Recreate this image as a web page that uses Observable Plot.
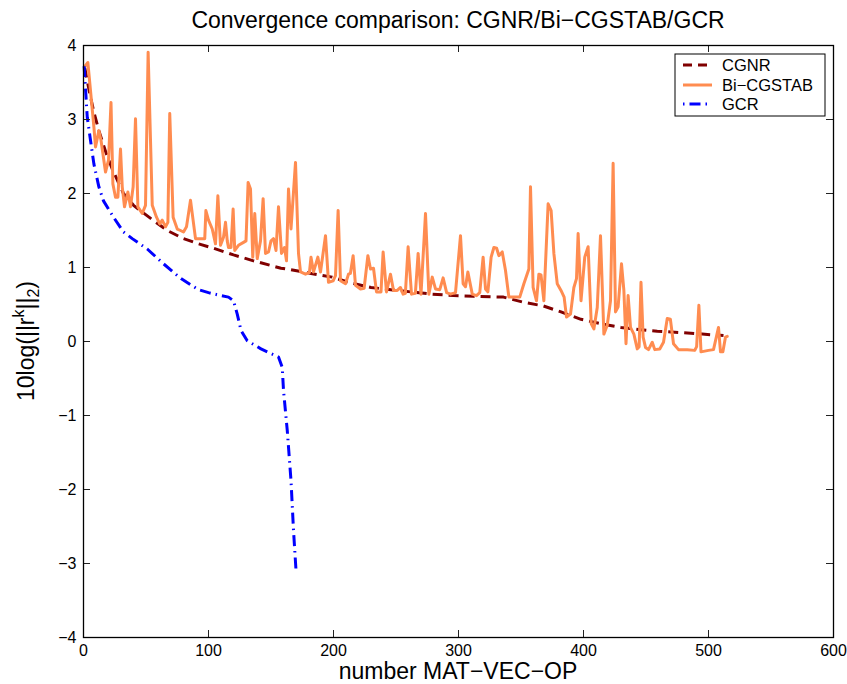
<!DOCTYPE html>
<html>
<head>
<meta charset="utf-8">
<script src="https://cdn.jsdelivr.net/npm/d3@7"></script>
<script src="https://cdn.jsdelivr.net/npm/@observablehq/plot@0.6"></script>
<style>
  body { margin: 0; background: #fff; }
  svg { font-family: "Liberation Sans", Arial, Helvetica, sans-serif; }
</style>
</head>
<body>
<div id="chart"></div>
<script>
const titleText = "Convergence comparison: CGNR/Bi\u2212CGSTAB/GCR";
const xLabel = "number MAT\u2212VEC\u2212OP";
const seriesNames = ["CGNR", "Bi\u2212CGSTAB", "GCR"];
const seriesColors = ["#800000", "#ff8c50", "#0000ff"];
const xTicks = [0, 100, 200, 300, 400, 500, 600];
const yTicks = [-4, -3, -2, -1, 0, 1, 2, 3, 4];

const cgnrX = [1, 5, 8.3, 12.3, 18, 23, 32, 40, 54, 67, 80, 92, 104, 120, 136, 158, 166, 182, 199, 214, 230, 251, 279, 296, 312, 336, 352, 368, 382, 398, 414, 430, 446, 459, 478, 495, 512];
const cgnrY = [3.7, 3.35, 3.1, 2.85, 2.55, 2.33, 2.0, 1.84, 1.66, 1.5, 1.39, 1.32, 1.26, 1.17, 1.09, 0.99, 0.97, 0.92, 0.87, 0.79, 0.73, 0.69, 0.64, 0.62, 0.61, 0.60, 0.53, 0.48, 0.40, 0.30, 0.24, 0.19, 0.16, 0.14, 0.12, 0.10, 0.08];

const biX = [0.8, 3.5, 5.6, 8.3, 9.6, 12.3, 14, 17.6, 20, 22, 23.5, 25.6, 27.5, 29.6, 31, 32.8, 35.5, 37.6, 39.7, 41.6, 43.5, 47, 49.6, 51.7, 55, 58.4, 61, 63, 65.6, 67.5, 69, 71.7, 75, 77.6, 80, 82.4, 85.6, 89.6, 93.6, 97, 97.9, 100, 103, 105.6, 107.5, 109.6, 112, 113.6, 115, 116, 118, 119.7, 121, 124, 128, 130, 131.7, 133.6, 135.4, 137, 139, 141.6, 143.7, 145.6, 148, 150, 152, 154, 156, 158.4, 160.8, 162.4, 164, 166, 169.6, 172, 173.6,
  177.6, 180.7, 182, 184, 187.5, 189.6, 193.6, 196, 199.7, 201.6, 203.7, 205.6, 209.6, 212, 213.5, 215.7, 217.6, 221.6, 224.5, 227.5, 229.6, 232, 234.4, 238, 239.7, 242.4, 245.6, 248, 251, 253.6, 255.7, 257.5, 259.7, 262.4, 265.5, 267.7, 270, 273.6, 276.3, 279, 281.6, 285, 287.7, 290.5, 293.6, 297.6, 301.6, 303.7, 305.6, 307.5, 311, 314.4, 317, 319.7, 321.6, 323.5, 326.1, 328.3, 330.5, 332.3, 335, 337.6, 340.3, 345.6, 349, 352.3, 356.3, 357.6, 359.7, 362.4, 364.3, 366, 368.3, 371.7, 374.1, 376.3, 379, 382, 384.5, 386.4, 389.6, 392.3, 394.4, 395.7, 398, 401, 403.7, 406.2, 408.3, 411, 413.6, 416.3, 419, 421.6, 423.7, 425.6, 427.7, 430.4, 432.3, 434, 435.7, 437.6, 440.3, 443, 444.5, 446, 447.7, 449.6, 452, 455, 457, 461, 464, 467, 469.5, 472, 476, 483, 489, 490.5, 492.3, 494, 500, 504, 508, 509.6, 511.5, 513.6, 515];
const biY = [3.71, 3.77, 3.39, 2.90, 2.63, 2.85, 2.72, 2.29, 2.45, 3.23, 2.13, 1.95, 1.95, 2.60, 2.09, 1.82, 2.02, 1.82, 2.09, 3.01, 1.82, 1.73, 1.84, 3.91, 1.84, 1.68, 1.59, 1.64, 1.55, 1.61, 3.08, 1.68, 1.52, 1.50, 1.48, 1.55, 1.91, 1.39, 1.39, 1.39, 1.77, 1.64, 1.52, 1.32, 1.97, 1.30, 1.41, 1.61, 1.36, 1.27, 1.27, 1.79, 1.23, 1.30, 1.34, 1.36, 2.15, 2.06, 1.14, 1.73, 1.12, 1.36, 1.93, 1.19, 1.21, 1.36, 1.39, 1.23, 1.82, 1.19, 1.27, 1.09, 2.06, 1.52, 2.42, 1.19, 0.94,
  0.91, 0.93, 1.14, 0.94, 1.14, 0.94, 1.43, 0.80, 0.82, 0.89, 1.77, 0.82, 0.78, 0.91, 0.92, 1.16, 0.76, 0.71, 0.72, 1.16, 0.98, 0.99, 0.67, 0.67, 1.21, 0.67, 0.91, 0.69, 0.69, 0.73, 0.64, 0.65, 1.28, 0.64, 0.65, 1.19, 0.64, 1.73, 0.64, 0.87, 0.71, 0.70, 0.86, 0.66, 0.64, 0.66, 1.43, 0.78, 0.74, 0.94, 0.64, 0.62, 0.66, 1.14, 0.71, 0.67, 1.14, 1.27, 1.26, 1.16, 1.21, 0.96, 0.60, 0.60, 0.60, 0.78, 0.98, 2.09, 0.73, 0.55, 0.91, 0.90, 0.55, 1.86, 1.77, 1.19, 0.78, 0.69, 0.60, 0.33, 0.37, 0.73, 0.85, 1.46, 0.55, 1.14, 1.28, 0.24, 0.17, 0.46, 1.43, 0.10, 0.22, 0.55, 2.41, 0.40, 0.47, 1.05, 0.69, -0.03, 0.62, 0.19, 0.10, -0.10, -0.07, 0.80, 0.06, -0.08, -0.11, -0.01, -0.11, -0.10, -0.01, 0.31, 0.30, -0.03, -0.11, -0.11, -0.12, -0.07, 0.49, -0.14, -0.12, -0.11, 0.19, -0.14, -0.14, 0.06, 0.07];

const gcrX = [0.5, 3, 5.6, 8.3, 12.3, 16, 24, 32, 39, 51, 64, 78, 92, 100, 110, 116, 120, 123, 126, 131, 142, 156, 159, 160, 163, 166, 168, 170];
const gcrY = [3.72, 3.03, 2.72, 2.4, 2.09, 1.9, 1.68, 1.48, 1.39, 1.25, 1.05, 0.85, 0.70, 0.66, 0.62, 0.60, 0.55, 0.37, 0.15, 0.01, -0.10, -0.21, -0.35, -0.66, -1.2, -1.88, -2.55, -3.09];

const toRows = (xs, ys) => xs.map((x, i) => ({x, y: ys[i]}));
const cgnr = toRows(cgnrX, cgnrY);
const bi = toRows(biX, biY);
const gcr = toRows(gcrX, gcrY);

const W = 847, H = 684, mL = 83, mR = 14, mT = 45, mB = 47;
const fw = W - mL - mR, fh = H - mT - mB;
const tick = 7;
const fmt = d => d < 0 ? "\u2212" + Math.abs(d) : String(d);

const chart = Plot.plot({
  width: W, height: H,
  marginLeft: mL, marginRight: mR, marginTop: mT, marginBottom: mB,
  style: {fontFamily: "'Liberation Sans', Arial, sans-serif", background: "white", color: "black"},
  x: {domain: [0, 600]},
  y: {domain: [-4, 4]},
  marks: [
    Plot.line(cgnr, {x: "x", y: "y", stroke: seriesColors[0], strokeWidth: 3, strokeDasharray: "10,6", strokeLinecap: "butt"}),
    Plot.line(bi, {x: "x", y: "y", stroke: seriesColors[1], strokeWidth: 3, strokeLinejoin: "round"}),
    Plot.line(gcr, {x: "x", y: "y", stroke: seriesColors[2], strokeWidth: 3, strokeDasharray: "11,5,1.5,5", strokeLinecap: "butt"}),
    Plot.tickX(xTicks, {x: d => d, insetTop: fh - tick, stroke: "#222"}),
    Plot.tickX(xTicks, {x: d => d, insetBottom: fh - tick, stroke: "#222"}),
    Plot.tickY(yTicks, {y: d => d, insetRight: fw - tick, stroke: "#222"}),
    Plot.tickY(yTicks, {y: d => d, insetLeft: fw - tick, stroke: "#222"}),
    Plot.axisX(xTicks, {tickSize: 0, tickPadding: 7, fontSize: 16, label: null, tickFormat: fmt}),
    Plot.axisY(yTicks, {tickSize: 0, tickPadding: 7, fontSize: 16, label: null, tickFormat: fmt}),
    Plot.frame({stroke: "black", strokeWidth: 1.3})
  ]
});
document.getElementById("chart").appendChild(chart);

const svg = d3.select(chart);
svg.append("text")
  .attr("x", mL + fw / 2).attr("y", 28)
  .attr("text-anchor", "middle")
  .attr("font-size", 23)
  .attr("fill", "black")
  .text(titleText);

svg.append("text")
  .attr("x", mL + fw / 2).attr("y", 679)
  .attr("text-anchor", "middle")
  .attr("font-size", 23)
  .attr("fill", "black")
  .text(xLabel);

const yl = svg.append("text")
  .attr("transform", `translate(34,${mT + fh / 2}) rotate(-90)`)
  .attr("text-anchor", "middle")
  .attr("font-size", 23)
  .attr("fill", "black");
yl.append("tspan").text("10log(||r");
yl.append("tspan").attr("dy", -10).attr("font-size", 16).text("k");
yl.append("tspan").attr("dy", 10).text("||");
yl.append("tspan").attr("dy", 5).attr("font-size", 16).text("2");
yl.append("tspan").attr("dy", -5).text(")");

// legend
const lg = svg.append("g").attr("text-anchor", "start");
lg.append("rect").attr("x", 675).attr("y", 54).attr("width", 150).attr("height", 62)
  .attr("fill", "white").attr("stroke", "black").attr("stroke-width", 1);
const rowsY = [65, 85, 104];
const dashes = ["9,6", null, "1.5,5,11,5"];
seriesNames.forEach((name, i) => {
  const l = lg.append("line").attr("x1", 683).attr("x2", 712).attr("y1", rowsY[i]).attr("y2", rowsY[i])
    .attr("stroke", seriesColors[i]).attr("stroke-width", 3);
  if (dashes[i]) l.attr("stroke-dasharray", dashes[i]);
  lg.append("text").attr("x", 722).attr("y", rowsY[i]).attr("dy", "0.36em")
    .attr("text-anchor", "start")
    .attr("font-size", 16.5).attr("fill", "black").text(name);
});
</script>
</body>
</html>
